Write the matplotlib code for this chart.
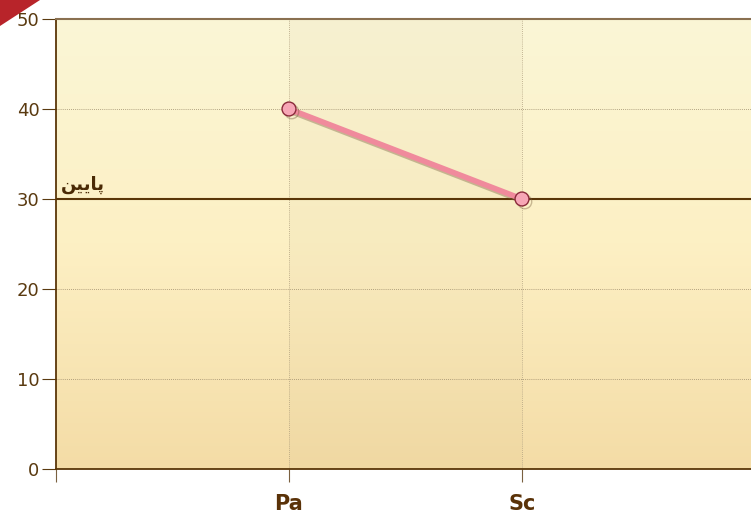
import numpy as np
import matplotlib.pyplot as plt
import matplotlib.patheffects as pe
from matplotlib.colors import LinearSegmentedColormap
from matplotlib.patches import Polygon

# داده‌ها
categories = ["", "Pa", "Sc", ""]
values = [40, 30]
value_positions = [1, 2]
threshold = 30
# "پایین" با شکل‌های نمایشی، به ترتیب دیداری (matplotlib شکل‌دهی عربی ندارد)
threshold_label = "\uFEE6\uFBFF\uFBFE\uFE8E\uFB58"
y_ticks = [0, 10, 20, 30, 40, 50]

W, H = 751, 518
fig = plt.figure(figsize=(W / 100, H / 100), dpi=100)
fig.patch.set_facecolor("white")

# محور: چپ 56px، پایین 469px، 3 واحد = 699px
ax = fig.add_axes([56 / W, (H - 469) / H, 699 / W, 450 / H])
ax.set_xlim(0, 3)
ax.set_ylim(0, 50)

# پس‌زمینه گرادیان
cmap = LinearSegmentedColormap.from_list("bg", ["#f4dca6", "#fdf0c4", "#faf6d6"])
grad = np.linspace(0, 1, 256).reshape(-1, 1)
ax.imshow(grad, aspect="auto", cmap=cmap, origin="lower",
          extent=[0, 3, 0, 50], zorder=0)
# ستون میانی کمی تیره‌تر
ax.axvspan(1, 2, color="#8a7a50", alpha=0.035, zorder=0.5, lw=0)

# خطوط شبکه
for y in y_ticks[1:-1]:
    ax.axhline(y, color="#9a8a6a", lw=0.6, ls=(0, (1, 1.5)), zorder=1)
for x in value_positions:
    ax.axvline(x, color="#b0a080", lw=0.6, ls=(0, (1, 1.5)), zorder=1)

# خط آستانه
ax.axhline(threshold, color="#5a3608", lw=1.5, zorder=2)
ax.text(0.02, threshold + 0.5, threshold_label, color="#4a2a05",
        fontsize=13, fontweight="bold", ha="left", va="bottom",
        family=["DejaVu Sans"], zorder=3)

# سری داده
shadow = [pe.SimpleLineShadow(offset=(2, -2), shadow_color="#7a6040", alpha=0.4),
          pe.Normal()]
ax.plot(value_positions, values, color="#f08a9c", lw=4, zorder=4,
        solid_capstyle="round", path_effects=shadow)
ax.plot(value_positions, values, ls="none", marker="o", ms=10,
        mfc="#f7a6b6", mec="#8a2a3a", mew=1, zorder=5,
        path_effects=shadow)

# محورها
ax.set_xticks(range(len(categories)))
ax.set_xticklabels(categories, fontsize=15, fontweight="bold", color="#5a3208")
ax.set_yticks(y_ticks)
ax.set_yticklabels([str(v) for v in y_ticks], fontsize=13, color="#5a3a10")
ax.tick_params(axis="x", length=9, color="#7a6040", pad=9)
ax.tick_params(axis="y", length=10, color="#5a3a10", pad=2)

for side in ["left", "bottom"]:
    ax.spines[side].set_color("#5a3608")
    ax.spines[side].set_linewidth(1.3)
ax.spines["top"].set_color("#8a7050")
ax.spines["top"].set_linewidth(1.5)
ax.spines["right"].set_visible(False)

# نوار قرمز گوشه
fig.patches.append(Polygon([(0, 1), (40 / W, 1), (0, 1 - 26 / H)],
                           closed=True, transform=fig.transFigure,
                           facecolor="#b8242a", edgecolor="none", zorder=10))

fig.savefig("out.png", dpi=100)
